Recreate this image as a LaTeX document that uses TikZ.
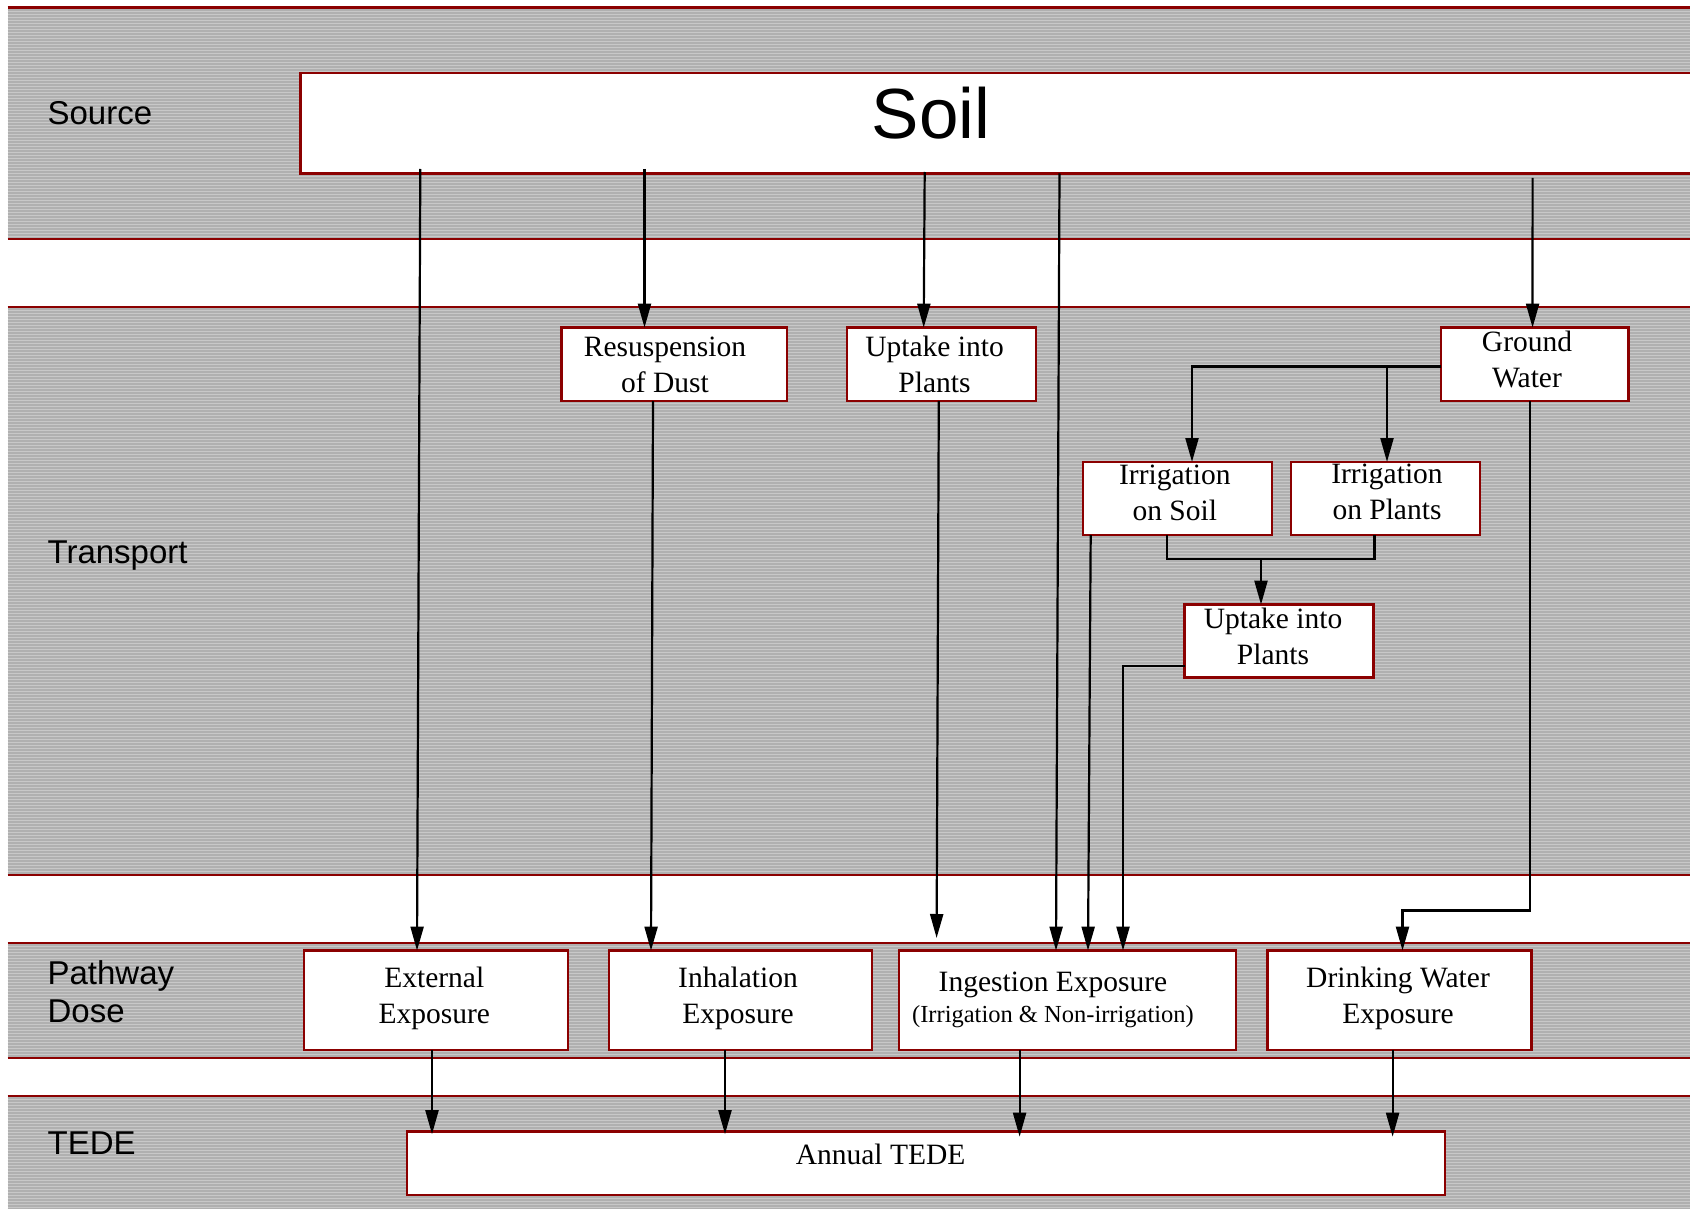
\documentclass[tikz,border=0pt]{standalone}
\usepackage{fontspec}
\setmainfont{Liberation Serif}
\newfontfamily\lsans{Liberation Sans}
\usetikzlibrary{arrows.meta}
\definecolor{bandred}{RGB}{139,0,0}
\definecolor{bandbase}{RGB}{200,200,200}
\definecolor{bandstripe}{RGB}{176,176,176}
\begin{document}
\begin{tikzpicture}[x=1pt,y=-1pt,
  box/.style={draw=bandred, line width=2.5pt, fill=white, inner sep=0pt, outer sep=0pt, anchor=north west, minimum height=73.4pt},
  txt/.style={font=\fontsize{29.5}{36}\selectfont, align=center, inner sep=0pt},
  lab/.style={font=\lsans\fontsize{33}{38}\selectfont, align=left, inner sep=0pt},
  conn/.style={line width=2.2pt, draw=black},
  arr/.style={conn, -{Triangle[length=24pt,width=13pt]}},
  redline/.style={draw=bandred, line width=2.5pt},
  stripe/.style={draw=bandstripe, line width=1.2pt}
]
\useasboundingbox (0,0) rectangle (1690,1209);
\fill[white] (0,0) rectangle (1690,1209);

% bands
\foreach \ya/\yb in {7.5/239, 307/875, 943/1058, 1096/1215}
  \fill[bandbase] (7.5,\ya) rectangle (1700,\yb);
\foreach \yy in {10,13,...,238} \draw[stripe] (7.5,\yy) -- (1700,\yy);
\foreach \yy in {309,312,...,874} \draw[stripe] (7.5,\yy) -- (1700,\yy);
\foreach \yy in {945,948,...,1057} \draw[stripe] (7.5,\yy) -- (1700,\yy);
\foreach \yy in {1098,1101,...,1212} \draw[stripe] (7.5,\yy) -- (1700,\yy);
\foreach \yy in {7.5,239,307,875,943,1058,1096}
  \draw[redline] (7.5,\yy) -- (1700,\yy);

% band labels
\node[lab, anchor=base west] (lsrc) at (47.4,124.8) {Source};
\node[lab, anchor=base west] (ltra) at (47.4,563.8) {Transport};
\node[lab, anchor=west] (lpath) at (47.4,992) {Pathway\\Dose};
\node[lab, anchor=base west] (ltede) at (47.4,1154.3) {TEDE};

% boxes
\node[box, minimum width=1500pt, minimum height=100.5pt] (soil) at (300.7,73) {};
\node[box, minimum width=225.3pt] (res) at (561.5,327.6) {};
\node[box, minimum width=188.8pt] (up1) at (847,327.6) {};
\node[box, minimum width=187.5pt] (gw) at (1441,327.6) {};
\node[box, minimum width=189pt, minimum height=73pt] (irs) at (1083,462) {};
\node[box, minimum width=189pt, minimum height=73pt] (irp) at (1291,462) {};
\node[box, minimum width=189pt, minimum height=73pt] (up2) at (1184.5,604.6) {};
\node[box, minimum width=264pt, minimum height=99.2pt] (ext) at (304,950.6) {};
\node[box, minimum width=263pt, minimum height=99.2pt] (inh) at (609,950.6) {};
\node[box, minimum width=337pt, minimum height=99.2pt] (ing) at (899,950.6) {};
\node[box, minimum width=264pt, minimum height=99.2pt] (drk) at (1267.5,950.6) {};
\node[box, minimum width=1038pt, minimum height=63.3pt] (tede) at (407,1131.7) {};

% connectors
\draw[arr] ([xshift=119.6pt,yshift=4.5pt]soil.south west) -- ([xshift=113pt]ext.north west);
\draw[arr] ([xshift=343.8pt,yshift=4.5pt]soil.south west) -- ([xshift=83pt]res.north west);
\draw[arr] ([xshift=624pt,yshift=1.5pt]soil.south west) -- ([xshift=-17.7pt]up1.north);
\draw[arr] ([xshift=758.8pt]soil.south west) -- ([xshift=157pt]ing.north west);
\draw[arr] ([xshift=1231.9pt,yshift=-4.5pt]soil.south west) -- ([xshift=-2.2pt]gw.north);
\draw[arr] ([xshift=91.5pt]res.south west) -- ([xshift=42pt]inh.north west);
\draw[arr] ([xshift=-2.6pt]up1.south) -- ([xshift=37.6pt,yshift=12.6pt]ing.north west);
\draw[arr] ([yshift=-2.2pt]gw.west) -| ([xshift=14.5pt]irs.north);
\draw[arr] ([yshift=-2.2pt]gw.west) -| ([xshift=1.5pt]irp.north);
\coordinate (jl) at ([xshift=-10.5pt]irs.south);
\coordinate (jr) at ([xshift=-11pt]irp.south);
\coordinate (jn) at (1261,559);
\draw[conn] (jl) |- (jn) -| (jr);
\draw[arr] (jn) -- (up2.north -| jn);
\draw[arr] ([xshift=7.7pt]irs.south west) -- ([xshift=189pt]ing.north west);
\draw[arr] ([yshift=-25pt]up2.west) -| ([xshift=224pt]ing.north west);
\coordinate (jd) at (1402.5,910.5);
\draw[arr] ([xshift=-5pt]gw.south) |- (jd) -- ([xshift=3pt]drk.north);
\draw[arr] ([xshift=-4pt]ext.south) -- ([xshift=25pt,yshift=-2.5pt]tede.north west);
\draw[arr] ([xshift=-15.5pt]inh.south) -- ([xshift=318pt,yshift=-2.5pt]tede.north west);
\draw[arr] ([xshift=-47.9pt]ing.south) -- ([xshift=612.6pt,yshift=-5pt]tede.north west);
\draw[arr] ([xshift=-6.9pt]drk.south) -- ([xshift=985.6pt,yshift=-5pt]tede.north west);

% texts
\node[inner sep=0pt, font=\lsans\fontsize{71}{80}\selectfont] (tsoil) at (931,113) {Soil};
\node[txt] (tres) at (665,364.8) {Resuspension\\of Dust};
\node[txt] (tup1) at (934.5,364.3) {Uptake into\\Plants};
\node[txt] (tgw) at (1527,359.3) {Ground\\Water};
\node[txt] (tirs) at (1174.8,492.5) {Irrigation\\on Soil};
\node[txt] (tirp) at (1387,491.8) {Irrigation\\on Plants};
\node[txt] (tup2) at (1273,636.3) {Uptake into\\Plants};
\node[txt] (text) at (434.3,998.4) {External\\Exposure};
\node[txt] (tinh) at (738,998.4) {Inhalation\\Exposure};
\node[txt] (ting) at (1053,1000) {Ingestion Exposure\\[-5pt]{\fontsize{24.5}{28}\selectfont (Irrigation \& Non-irrigation)}};
\node[txt] (tdrk) at (1398,998.4) {Drinking Water\\Exposure};
\node[txt] (ttede) at (880.6,1154) {Annual TEDE};
\end{tikzpicture}
\end{document}
